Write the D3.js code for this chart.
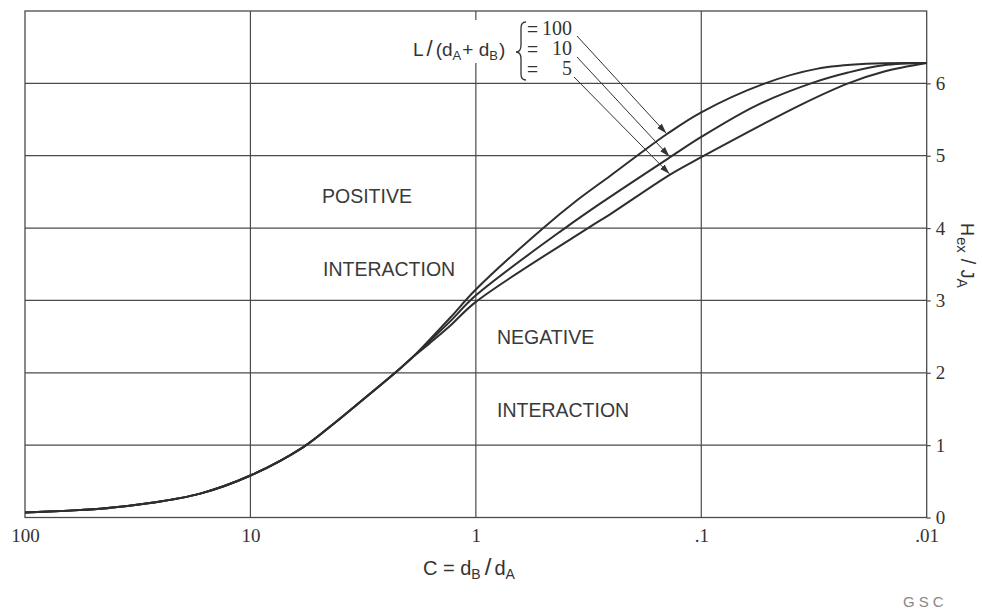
<!DOCTYPE html>
<html><head><meta charset="utf-8">
<script src="https://cdn.jsdelivr.net/npm/d3@7"></script>
<style>
html,body{margin:0;padding:0;background:#fff;}
svg{display:block;}
</style></head><body>
<svg id="chart" width="982" height="610"></svg>
<script>
// ---------- data ----------
const xTickValues = [100, 10, 1, 0.1, 0.01];
const xTickLabels = ["100", "10", "1", ".1", ".01"];
const yTickValues = [0, 1, 2, 3, 4, 5, 6];
const yTickLabels = ["0", "1", "2", "3", "4", "5", "6"];

// shared lower part of all three curves (C = dB/dA, H = Hex/JA)
const commonC = [100, 46.4, 27.9, 16.7, 10, 5.85, 4.3, 3.62, 2.28, 1.9];
const commonH = [0.07, 0.12, 0.20, 0.33, 0.58, 0.97, 1.29, 1.48, 2.0, 2.22];

// branches for L/(dA+dB) = 100, 10, 5
const seriesLabels = ["100", "10", "5"];
const branchC100 = [1.6, 1.3, 1.0, 0.502, 0.357, 0.254, 0.187, 0.142, 0.1, 0.0521, 0.0308, 0.0185, 0.01];
const branchH100 = [2.46, 2.76, 3.15, 4.0, 4.38, 4.72, 5.03, 5.30, 5.6, 6.0, 6.2, 6.27, 6.28];
const branchC10  = [1.6, 1.3, 1.0, 0.402, 0.2626, 0.1375, 0.1, 0.0565, 0.0319, 0.0223, 0.01556, 0.01];
const branchH10  = [2.44, 2.71, 3.07, 4.0, 4.40, 4.98, 5.26, 5.70, 6.01, 6.15, 6.25, 6.28];
const branchC5   = [1.6, 1.3, 1.0, 0.318, 0.254, 0.1375, 0.1, 0.0364, 0.0223, 0.01556, 0.01];
const branchH5   = [2.41, 2.65, 2.98, 4.0, 4.19, 4.74, 4.98, 5.70, 6.0, 6.16, 6.28];

// where the legend arrows point on each curve
const arrowC = [0.143, 0.1385, 0.1385];
const arrowH = [5.31, 4.99, 4.75];

const regionLabels = ["POSITIVE", "INTERACTION", "NEGATIVE", "INTERACTION"];

// ---------- layout ----------
const svg = d3.select("#chart");
const L = 25, R = 926.7, T = 11, B = 517.5;
const x = d3.scaleLog().domain([100, 0.01]).range([L, R]);
const y = d3.scaleLinear().domain([0, 7]).range([B, T]);

const ink = "#2e2e2e";
const gridColor = "#4a4a4a";
const sans = "'Liberation Sans', Arial, sans-serif";
const serif = "'Liberation Serif', 'Times New Roman', serif";

svg.append("rect").attr("width", 982).attr("height", 610).attr("fill", "#fff");

// grid
const g = svg.append("g");
g.selectAll("line.h").data(yTickValues.filter(v => v > 0)).join("line")
  .attr("x1", L).attr("x2", R).attr("y1", d => y(d)).attr("y2", d => y(d))
  .attr("stroke", gridColor).attr("stroke-width", 1.2);
g.selectAll("line.v").data(xTickValues.slice(1, -1)).join("line")
  .attr("x1", d => x(d)).attr("x2", d => x(d)).attr("y1", T).attr("y2", B)
  .attr("stroke", gridColor).attr("stroke-width", 1.2);
g.append("rect").attr("x", L).attr("y", T).attr("width", R - L).attr("height", B - T)
  .attr("fill", "none").attr("stroke", gridColor).attr("stroke-width", 1.3);

// right axis
const yAxis = d3.axisRight(y).tickValues(yTickValues)
  .tickFormat((d, i) => yTickLabels[i]).tickSize(4).tickPadding(5);
const ya = svg.append("g").attr("transform", `translate(${R},0)`).call(yAxis);
ya.select(".domain").remove();
ya.selectAll("line").attr("stroke", gridColor).attr("stroke-width", 1.2);
ya.selectAll("text").attr("font-family", serif).attr("font-size", 19).attr("fill", "#333");

// bottom axis
const xAxis = d3.axisBottom(x).tickValues(xTickValues)
  .tickFormat((d, i) => xTickLabels[i]).tickSize(0).tickPadding(11);
const xa = svg.append("g").attr("transform", `translate(0,${B})`).call(xAxis);
xa.select(".domain").remove();
xa.selectAll("text").attr("font-family", serif).attr("font-size", 19).attr("fill", "#333");

// curves
const line = d3.line().x(d => x(d.c)).y(d => y(d.h)).curve(d3.curveCatmullRom.alpha(0.5));
function buildSeries(bc, bh) {
  const pts = commonC.map((c, i) => ({c, h: commonH[i]}));
  bc.forEach((c, i) => pts.push({c, h: bh[i]}));
  return pts;
}
const series = [buildSeries(branchC100, branchH100), buildSeries(branchC10, branchH10), buildSeries(branchC5, branchH5)];
svg.append("g").selectAll("path").data(series).join("path")
  .attr("d", line).attr("fill", "none").attr("stroke", ink).attr("stroke-width", 2)
  .attr("stroke-linejoin", "round");

// region labels
const regionPos = [[322, 203], [323, 276], [497, 344], [497, 416.5]];
svg.append("g").selectAll("text").data(regionLabels).join("text")
  .attr("x", (d, i) => regionPos[i][0]).attr("y", (d, i) => regionPos[i][1])
  .attr("font-family", sans).attr("font-size", 19.5).attr("fill", "#3a3a3a")
  .text(d => d);

// legend: L/(dA+dB) { =100 / = 10 / = 5
svg.append("rect").attr("x", 405).attr("y", 20).attr("width", 112).attr("height", 43).attr("fill", "#fff");
const lt = svg.append("text").attr("x", 413).attr("y", 56)
  .attr("font-family", sans).attr("font-size", 19).attr("fill", "#333");
lt.append("tspan").text("L");
lt.append("tspan").attr("dx", 3).attr("font-size", 22).text("/");
lt.append("tspan").attr("dx", 3).text("(d");
lt.append("tspan").attr("font-size", 13).attr("dy", 4).text("A");
lt.append("tspan").attr("dy", -4).attr("dx", 1).text("+ d");
lt.append("tspan").attr("font-size", 13).attr("dy", 4).text("B");
lt.append("tspan").attr("dy", -4).attr("dx", 1).text(")");

svg.append("path")
  .attr("d", "M526,22 Q521,22 521,28 L521,45 Q521,52 516,52 Q521,52 521,59 L521,74 Q521,80 526,80")
  .attr("fill", "none").attr("stroke", "#333").attr("stroke-width", 1.3);

const rowY = [35, 55, 75];
const leg = svg.append("g");
seriesLabels.forEach((s, i) => {
  leg.append("text").attr("x", 527).attr("y", rowY[i])
    .attr("font-family", sans).attr("font-size", 19).attr("fill", "#333").text("=");
  leg.append("text").attr("x", 572).attr("y", rowY[i]).attr("text-anchor", "end")
    .attr("font-family", serif).attr("font-size", 20).attr("fill", "#333").text(s);
});

// arrows
const defs = svg.append("defs");
defs.append("marker").attr("id", "ah").attr("viewBox", "0 -4 10 8")
  .attr("refX", 10).attr("refY", 0).attr("markerWidth", 10).attr("markerHeight", 8)
  .attr("markerUnits", "userSpaceOnUse").attr("orient", "auto")
  .append("path").attr("d", "M0,-3.2L10,0L0,3.2Z").attr("fill", "#333");
const arrowStart = [[577, 36], [577, 57], [574, 77]];
svg.append("g").selectAll("line").data(arrowC).join("line")
  .attr("x1", (d, i) => arrowStart[i][0]).attr("y1", (d, i) => arrowStart[i][1])
  .attr("x2", (d, i) => x(arrowC[i])).attr("y2", (d, i) => y(arrowH[i]))
  .attr("stroke", "#333").attr("stroke-width", 1).attr("marker-end", "url(#ah)");

// x axis title: C = dB / dA
const xt = svg.append("text").attr("x", 423).attr("y", 575)
  .attr("font-family", sans).attr("font-size", 20).attr("fill", "#333");
xt.append("tspan").text("C = d");
xt.append("tspan").attr("font-size", 14).attr("dy", 4).text("B");
xt.append("tspan").attr("dy", -4).attr("dx", 4).attr("font-size", 24).text("/");
xt.append("tspan").attr("dx", 3).text("d");
xt.append("tspan").attr("font-size", 14).attr("dy", 4).text("A");

// right axis title: Hex / JA (rotated)
const yt = svg.append("text").attr("transform", "translate(961,223) rotate(90)")
  .attr("font-family", sans).attr("font-size", 18).attr("fill", "#333");
yt.append("tspan").text("H");
yt.append("tspan").attr("font-size", 15).attr("dy", 4).attr("dx", 1).text("ex");
yt.append("tspan").attr("dy", -4).attr("dx", 6).attr("font-size", 20).text("/");
yt.append("tspan").attr("dx", 5).text("J");
yt.append("tspan").attr("font-size", 14).attr("dy", 4).text("A");

// credit
svg.append("text").attr("x", 903).attr("y", 607)
  .attr("font-family", sans).attr("font-size", 15).attr("letter-spacing", 4)
  .attr("fill", "#888").text("GSC");
</script>
</body></html>
